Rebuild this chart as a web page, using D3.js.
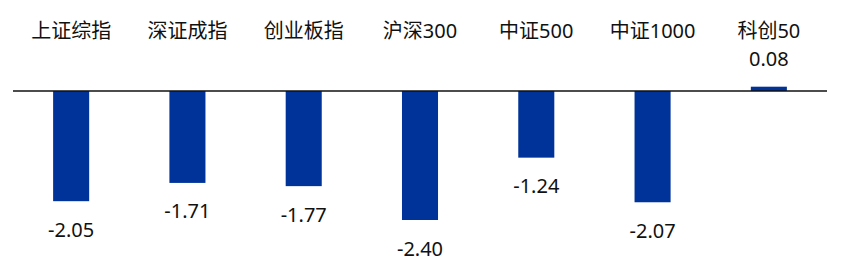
<!DOCTYPE html>
<html><head><meta charset="utf-8">
<script src="https://cdn.jsdelivr.net/npm/d3@7"></script>
<style>body{margin:0;background:#fff}svg{display:block}</style>
</head><body>
<script>
const categories = ["上证综指","深证成指","创业板指","沪深300","中证500","中证1000","科创50"];
const values = [-2.05,-1.71,-1.77,-2.40,-1.24,-2.07,0.08];
const labels = ["-2.05","-1.71","-1.77","-2.40","-1.24","-2.07","0.08"];

const W=851,H=270;
const svg=d3.select("body").append("svg").attr("width",W).attr("height",H);
const font="'Noto Sans','Noto Sans CJK SC',sans-serif";

const x=d3.scaleBand().domain(categories).range([13,827]).paddingInner(0.69).paddingOuter(0.345);
const y=d3.scaleLinear().domain([-2.40,0]).range([220,91]);

svg.selectAll("rect.bar").data(values).join("rect").attr("class","bar")
  .attr("x",(d,i)=>x(categories[i]))
  .attr("width",x.bandwidth())
  .attr("y",d=>Math.min(y(d),y(0)))
  .attr("height",d=>Math.abs(y(d)-y(0)))
  .attr("fill","#003399");

svg.append("line").attr("x1",13).attr("x2",827).attr("y1",y(0)).attr("y2",y(0))
  .attr("stroke","#111").attr("stroke-width",1.3);

svg.selectAll("text.cat").data(categories).join("text").attr("class","cat")
  .attr("x",d=>x(d)+x.bandwidth()/2).attr("y",38)
  .attr("text-anchor","middle").attr("font-family",font).attr("font-size",20).attr("fill","#111")
  .text(d=>d);

svg.selectAll("text.val").data(values).join("text").attr("class","val")
  .attr("x",(d,i)=>x(categories[i])+x.bandwidth()/2)
  .attr("y",d=>d<0? y(d)+35.5 : y(d)-20.5)
  .attr("text-anchor","middle").attr("font-family",font).attr("font-size",20).attr("fill","#111")
  .text((d,i)=>labels[i]);
</script>
</body></html>
